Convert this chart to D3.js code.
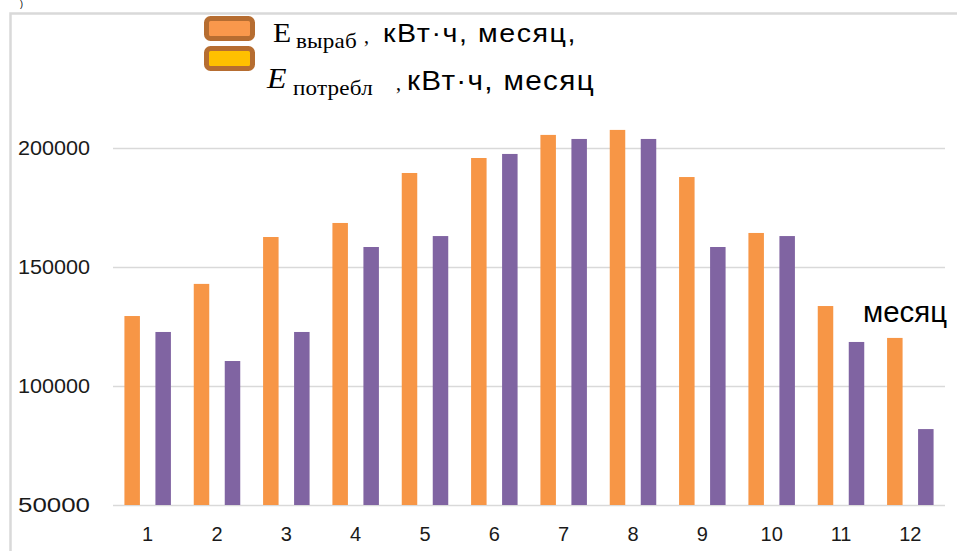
<!DOCTYPE html>
<html><head><meta charset="utf-8">
<script src="https://cdn.jsdelivr.net/npm/d3@7/dist/d3.min.js"></script>
<style>
html,body{margin:0;padding:0;background:#fff;}
svg{display:block;}
</style></head>
<body>
<svg id="c" width="957" height="551"></svg>
<script>
const months = ["1","2","3","4","5","6","7","8","9","10","11","12"];
const produced = [129400,142900,162600,168500,189500,195800,205500,207600,187800,164300,133600,120200];
const consumed = [122700,110500,122700,158400,163000,197500,203800,203800,158400,163000,118500,81900];
const yTicks = [50000,100000,150000,200000];
const seriesKeys = ["produced","consumed"];
const seriesColors = {produced:"#F79646", consumed:"#8064A2"};

const svg = d3.select("#c");
const W = 957, H = 551;
const plot = {left:113, right:945, top:29, bottom:505};

// frame
svg.append("path").attr("d", `M10.5,${H} V13.5 H${W}`).attr("fill","none")
  .attr("stroke","#D9D9D9").attr("stroke-width",2.5);
svg.append("text").attr("x",20).attr("y",7).attr("font-family","Liberation Sans")
  .attr("font-size",9).attr("fill","#000").text(")");

const x0 = d3.scaleBand().domain(months).range([plot.left, plot.right]).paddingInner(0).paddingOuter(0);
const step = x0.bandwidth();
const x1 = d3.scaleBand().domain(seriesKeys).range([step/2 - 23.25, step/2 + 23.25]).paddingInner(0.5).paddingOuter(0);
const y = d3.scaleLinear().domain([50000, 250000]).range([plot.bottom, plot.top]);

// gridlines + y labels
const yAxis = svg.append("g").attr("transform", `translate(${plot.left},0)`)
  .call(d3.axisLeft(y).tickValues(yTicks).tickSize(-(plot.right - plot.left)).tickPadding(23).tickFormat(d3.format("d")));
yAxis.select(".domain").remove();
yAxis.selectAll(".tick line").attr("stroke","#D9D9D9").attr("stroke-width",1.6);
yAxis.selectAll(".tick text").attr("font-family","Liberation Sans").attr("font-size",20)
  .attr("fill","#1a1a1a").attr("textLength",72).attr("lengthAdjust","spacingAndGlyphs");

// bars
const rows = months.map((m,i)=>({m, produced:produced[i], consumed:consumed[i]}));
const groups = svg.append("g").selectAll("g").data(rows).join("g")
  .attr("transform", d => `translate(${x0(d.m)},0)`);
groups.selectAll("rect").data(d => seriesKeys.map(k => ({k, v:d[k]}))).join("rect")
  .attr("x", d => x1(d.k)).attr("width", x1.bandwidth())
  .attr("y", d => y(d.v)).attr("height", d => y(50000) - y(d.v))
  .attr("fill", d => seriesColors[d.k]);

// x labels
const xAxis = svg.append("g").attr("transform", `translate(0,${plot.bottom})`)
  .call(d3.axisBottom(x0).tickSize(0).tickPadding(22));
xAxis.select(".domain").remove();
xAxis.selectAll(".tick text").attr("font-family","Liberation Sans").attr("font-size",20).attr("fill","#1a1a1a");

// legend swatches
const sw = [{y:18.5, fill:"#F9984C"},{y:48.5, fill:"#FFC000"}];
svg.append("g").selectAll("rect").data(sw).join("rect")
  .attr("x",206.5).attr("y",d=>d.y).attr("width",46).attr("height",20).attr("rx",4)
  .attr("fill",d=>d.fill).attr("stroke","#B66D31").attr("stroke-width",5);

// widened text helper: mild horizontal scale plus letter-spacing to reach target width
function stext(parent, x, yb, str, width, family, size, style){
  const g = parent.append("g").attr("transform", `translate(${x},${yb})`);
  const t = g.append("text").attr("x",0).attr("y",0).attr("font-family",family)
    .attr("font-size",size).attr("fill","#000").text(str);
  if(style) t.attr("font-style",style);
  const w = t.node().getComputedTextLength();
  if(width && w>0){
    const s = Math.min(width/w, 1.1);
    if(str.length>1){
      const ls = (width/s - w)/(str.length);
      if(ls>0) t.attr("letter-spacing", ls);
    }
    t.attr("transform", `scale(${s},1)`);
  }
  return t;
}
const serif = "Liberation Serif", sans = "Liberation Sans";
const lg = svg.append("g");
// line 1
stext(lg, 273, 42, "E", 22, serif, 27);
stext(lg, 296, 48, "выраб", 61, serif, 21);
stext(lg, 364, 43, ",", null, serif, 20);
stext(lg, 383, 42, "кВт·ч, месяц,", 194, sans, 26);
// line 2
stext(lg, 267, 88, "E", 25, serif, 29, "italic");
stext(lg, 293, 95, "потребл", 80, serif, 21);
stext(lg, 396, 90, ",", null, serif, 20);
stext(lg, 407, 90, "кВт·ч, месяц", 188, sans, 27);

// axis title near right
stext(svg, 863, 322, "месяц", 84, sans, 30);
</script>
</body></html>
